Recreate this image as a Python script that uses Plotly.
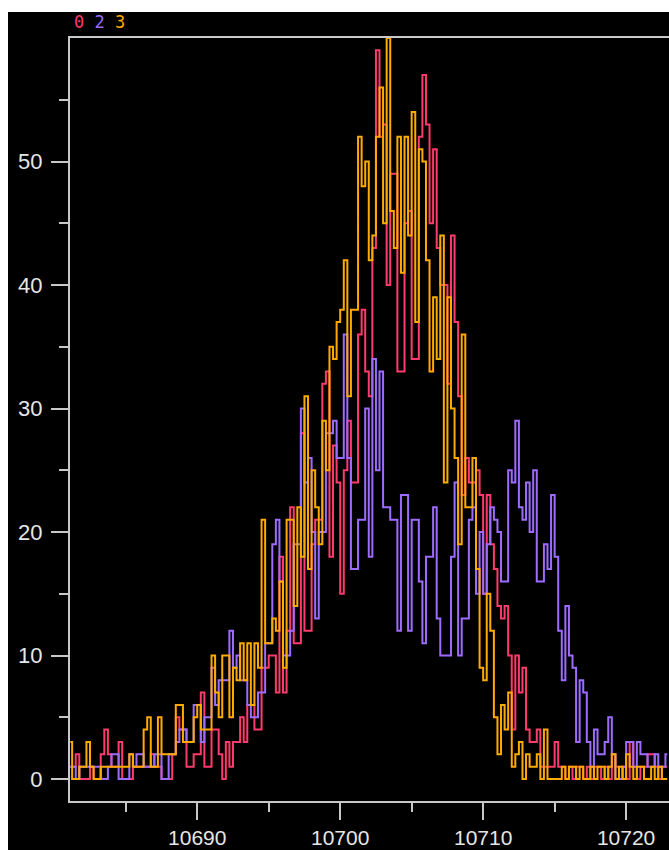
import numpy as np
import plotly.graph_objects as go

# ---- data (counts per 0.25-wide bin, starting at 10681.0) ----
bin_start = 10681.0
bin_width = 0.25

series_names = ["0", "2", "3"]
series_colors = ["#ff3a6c", "#9d6cff", "#ffaa00"]

counts_0 = [
    1, 1, 2, 0, 0, 0, 1, 0, 0, 2,
    4, 2, 1, 1, 3, 0, 0, 0, 1, 1,
    1, 1, 1, 2, 1, 1, 0, 0, 0, 2,
    5, 4, 4, 1, 1, 2, 2, 7, 1, 1,
    4, 4, 2, 0, 3, 1, 3, 3, 5, 3,
    6, 6, 4, 4, 9, 9, 10, 10, 7, 18,
    7, 12, 22, 11, 11, 28, 12, 12, 19, 21,
    21, 32, 33, 18, 27, 24, 15, 25, 29, 24,
    24, 36, 38, 33, 31, 43, 59, 52, 53, 40,
    49, 49, 33, 33, 45, 46, 34, 34, 52, 57,
    53, 45, 51, 43, 40, 40, 32, 44, 37, 31,
    23, 26, 24, 24, 25, 23, 15, 23, 19, 17,
    14, 13, 14, 10, 4, 10, 7, 9, 4, 3,
    3, 4, 1, 1, 1, 1, 3, 1, 1, 0,
    1, 0, 1, 1, 0, 1, 0, 1, 1, 0,
    1, 0, 2, 1, 0, 1, 0, 3, 1, 0,
    1, 1, 2, 2, 1, 0, 1, 1,
]

counts_2 = [
    1, 1, 0, 1, 1, 1, 1, 1, 1, 0,
    0, 1, 2, 2, 0, 0, 0, 2, 1, 2,
    2, 1, 1, 1, 2, 2, 0, 0, 2, 2,
    3, 4, 4, 3, 3, 6, 6, 3, 5, 5,
    9, 6, 8, 8, 8, 12, 9, 10, 8, 8,
    6, 5, 5, 7, 7, 11, 11, 19, 21, 16,
    10, 10, 12, 19, 19, 30, 24, 26, 20, 13,
    20, 20, 28, 28, 29, 26, 26, 36, 26, 17,
    17, 21, 21, 30, 18, 34, 25, 33, 22, 22,
    21, 21, 12, 23, 23, 12, 21, 21, 16, 11,
    18, 18, 22, 13, 10, 10, 10, 18, 24, 10,
    13, 13, 21, 22, 15, 20, 15, 19, 22, 21,
    20, 16, 16, 25, 24, 29, 22, 21, 24, 20,
    25, 16, 16, 19, 17, 23, 18, 12, 8, 14,
    10, 9, 3, 8, 7, 3, 1, 4, 2, 2,
    3, 5, 2, 0, 0, 1, 3, 3, 1, 3,
    2, 2, 1, 1, 2, 1, 1, 2,
]

counts_3 = [
    3, 0, 0, 1, 1, 3, 1, 0, 0, 1,
    1, 1, 1, 1, 1, 1, 1, 2, 1, 1,
    1, 4, 5, 1, 1, 5, 2, 2, 2, 2,
    6, 6, 3, 3, 3, 5, 6, 4, 4, 4,
    10, 7, 5, 10, 10, 5, 9, 8, 11, 8,
    11, 6, 11, 9, 21, 11, 11, 13, 12, 16,
    9, 21, 21, 14, 22, 18, 31, 17, 25, 22,
    19, 29, 25, 35, 34, 37, 38, 42, 31, 38,
    38, 52, 48, 50, 42, 44, 52, 56, 45, 60,
    46, 43, 52, 41, 52, 44, 54, 37, 51, 50,
    42, 33, 39, 34, 44, 24, 39, 30, 26, 19,
    36, 22, 22, 26, 17, 9, 8, 15, 12, 5,
    2, 6, 4, 7, 1, 2, 3, 0, 2, 1,
    1, 2, 0, 4, 0, 0, 0, 0, 1, 0,
    1, 1, 0, 1, 0, 0, 1, 0, 1, 1,
    0, 1, 2, 0, 1, 0, 2, 1, 0, 1,
    1, 0, 0, 1, 0, 1, 0, 0,
]

x_tick_vals = [10690, 10700, 10710, 10720]
x_minor_vals = [10685, 10695, 10705, 10715]
y_tick_vals = [0, 10, 20, 30, 40, 50]
y_minor_vals = [5, 15, 25, 35, 45, 55]
x_range = [10681.1, 10723.0]
y_range = [-1.78, 60]

# ---- figure ----
W, H = 661, 838
ML, MR, MT, MB = 62, 0, 26, 49

fig = go.Figure()
for name, color, vals in zip(series_names, series_colors, [counts_0, counts_2, counts_3]):
    n = len(vals)
    xs = bin_start + bin_width * (np.arange(n) + 0.5)
    fig.add_trace(go.Scatter(
        x=xs, y=vals, mode="lines", name=name,
        line=dict(color=color, width=2, shape="hvh"),
        hoverinfo="skip",
    ))

axis_col = "#c8c8c8"
font_col = "#e6e6e6"
tick_font_x = dict(family="Liberation Sans, Arial, sans-serif", size=21, color=font_col)
tick_font_y = dict(family="Liberation Sans, Arial, sans-serif", size=22, color=font_col)

fig.update_xaxes(
    range=x_range, showgrid=False, zeroline=False, automargin=False,
    showline=True, linecolor=axis_col, linewidth=2, mirror=True,
    ticks="outside", ticklen=17, tickwidth=2, tickcolor=axis_col,
    tickvals=x_tick_vals, ticktext=[str(v) for v in x_tick_vals],
    tickfont=tick_font_x, ticklabelstandoff=0,
    minor=dict(tickvals=x_minor_vals, ticks="outside", ticklen=9, tickwidth=2, tickcolor=axis_col),
)
fig.update_yaxes(
    range=y_range, showgrid=False, zeroline=False, automargin=False,
    showline=True, linecolor=axis_col, linewidth=2, mirror=False,
    ticks="outside", ticklen=17, tickwidth=2, tickcolor=axis_col,
    tickvals=y_tick_vals, ticktext=[str(v) for v in y_tick_vals],
    tickfont=tick_font_y, ticklabelstandoff=4,
    minor=dict(tickvals=y_minor_vals, ticks="outside", ticklen=9, tickwidth=2, tickcolor=axis_col),
)

legend_text = "&nbsp;".join(
    f"<span style='color:{c}'>{n}</span>" for n, c in zip(series_names, series_colors)
)

pw, ph = W - ML - MR, H - MT - MB
fig.update_layout(
    width=W, height=H,
    margin=dict(l=ML, r=MR, t=MT, b=MB, pad=0),
    paper_bgcolor="black", plot_bgcolor="black",
    showlegend=False,
    annotations=[dict(
        text=legend_text, xref="paper", yref="paper",
        x=2 / pw, y=1 + (MT - 10) / ph, xanchor="left", yanchor="middle",
        showarrow=False,
        font=dict(family="DejaVu Sans Mono, monospace", size=17),
    )],
)

fig.write_html(
    "out.html",
    post_script=(
        "document.documentElement.style.overflow='hidden';"
        "document.body.style.overflow='hidden';"
        "document.body.style.margin='12px 0 0 8px';"
    ),
)
